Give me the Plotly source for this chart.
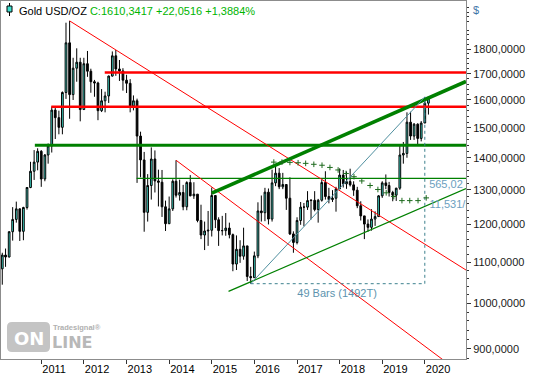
import plotly.graph_objects as go
import pandas as pd

# ---------------- data (monthly Gold USD/OZ, Feb 2010 - Feb 2020) ----------------
open_ = [1083, 1118, 1113, 1180, 1214, 1244, 1181, 1248, 1307, 1357, 1386,
         1421, 1333, 1409, 1439, 1563, 1536, 1502, 1628, 1826, 1620, 1722, 1746,
         1565, 1740, 1710, 1669, 1664, 1561, 1597, 1615, 1691, 1772, 1719, 1711,
         1675, 1663, 1578, 1597, 1472, 1393, 1234, 1313, 1396, 1327, 1323, 1250,
         1202, 1244, 1326, 1284, 1292, 1250, 1322, 1282, 1287, 1211, 1171, 1182,
         1184, 1283, 1213, 1183, 1183, 1190, 1172, 1095, 1133, 1115, 1142, 1064,
         1061, 1116, 1238, 1233, 1293, 1215, 1321, 1351, 1309, 1316, 1275, 1174,
         1151, 1211, 1249, 1249, 1268, 1269, 1242, 1269, 1322, 1280, 1271, 1275,
         1303, 1345, 1318, 1325, 1315, 1299, 1253, 1224, 1201, 1192, 1215, 1222,
         1282, 1321, 1313, 1292, 1284, 1305, 1409, 1414, 1520, 1472, 1513, 1464,
         1517, 1588.3]
high = [1124, 1135, 1181, 1249, 1265, 1245, 1250, 1308, 1387, 1425, 1431,
        1425, 1412, 1447, 1576, 1577, 1561, 1632, 1913, 1921, 1764, 1803, 1764,
        1764, 1792, 1720, 1676, 1669, 1641, 1631, 1693, 1790, 1796, 1755, 1722,
        1696, 1679, 1617, 1605, 1487, 1419, 1348, 1434, 1424, 1362, 1361, 1268,
        1280, 1332, 1392, 1331, 1315, 1326, 1345, 1323, 1287, 1256, 1208, 1238,
        1307, 1284, 1220, 1224, 1232, 1205, 1175, 1170, 1157, 1191, 1142, 1088,
        1127, 1263, 1283, 1306, 1304, 1362, 1375, 1367, 1352, 1317, 1338, 1181,
        1220, 1264, 1261, 1296, 1272, 1296, 1273, 1331, 1357, 1306, 1299, 1309,
        1366, 1361, 1356, 1365, 1326, 1309, 1266, 1224, 1214, 1243, 1237, 1284,
        1326, 1347, 1324, 1297, 1306, 1439, 1452, 1555, 1557, 1517, 1516, 1524,
        1611.4, 1612]
low = [1044, 1088, 1112, 1156, 1205, 1155, 1157, 1242, 1305, 1330, 1360,
       1309, 1326, 1381, 1417, 1462, 1478, 1478, 1604, 1532, 1600, 1669, 1523,
       1564, 1688, 1627, 1612, 1527, 1556, 1555, 1589, 1689, 1692, 1672, 1635,
       1626, 1555, 1562, 1321, 1338, 1180, 1208, 1271, 1292, 1251, 1221, 1182,
       1202, 1238, 1277, 1268, 1240, 1240, 1281, 1273, 1206, 1160, 1131, 1142,
       1167, 1190, 1142, 1170, 1169, 1162, 1077, 1080, 1098, 1106, 1053, 1046.4,
       1061, 1110, 1208, 1209, 1200, 1208, 1311, 1302, 1302, 1241, 1171, 1124,
       1146, 1199, 1195, 1241, 1214, 1237, 1205, 1265, 1271, 1260, 1264, 1236,
       1302, 1307, 1303, 1310, 1282, 1246, 1211, 1160, 1180, 1183, 1196, 1221,
       1276, 1302, 1280, 1266, 1267, 1300, 1381, 1400, 1459, 1459, 1445, 1454,
       1517, 1547]
close = [1118, 1113, 1180, 1214, 1244, 1181, 1248, 1307, 1357, 1386, 1421,
         1333, 1409, 1439, 1563, 1536, 1502, 1628, 1826, 1620, 1722, 1746, 1565,
         1740, 1710, 1669, 1664, 1561, 1597, 1615, 1691, 1772, 1719, 1711, 1675,
         1663, 1578, 1597, 1472, 1393, 1234, 1313, 1396, 1327, 1323, 1250, 1202,
         1244, 1326, 1284, 1292, 1250, 1322, 1282, 1287, 1211, 1171, 1182, 1184,
         1283, 1213, 1183, 1183, 1190, 1172, 1095, 1133, 1115, 1142, 1064, 1061,
         1116, 1238, 1233, 1293, 1215, 1321, 1351, 1309, 1316, 1275, 1174, 1151,
         1211, 1249, 1249, 1268, 1269, 1242, 1269, 1322, 1280, 1271, 1275, 1303,
         1345, 1318, 1325, 1315, 1299, 1253, 1224, 1201, 1192, 1215, 1222, 1282,
         1321, 1313, 1292, 1284, 1305, 1409, 1414, 1520, 1472, 1513, 1464, 1517,
         1588.3, 1610.3417]
months = pd.date_range("2010-02-01", periods=len(close), freq="MS")

year_ticks = ["2011-01-01", "2012-01-01", "2013-01-01", "2014-01-01", "2015-01-01",
              "2016-01-01", "2017-01-01", "2018-01-01", "2019-01-01", "2020-01-01"]
year_labels = ["2011", "2012", "2013", "2014", "2015", "2016", "2017", "2018", "2019", "2020"]
price_ticks = [900, 1000, 1100, 1200, 1300, 1400, 1500, 1600, 1700, 1800]
price_labels = ["900,0000", "1000,0000", "1100,0000", "1200,0000", "1300,0000",
                "1400,0000", "1500,0000", "1600,0000", "1700,0000", "1800,0000"]
minor_prices = [p for p in range(880, 2020, 20) if p % 100 != 0]

# horizontal levels: (start date, price)
red_levels = [("2012-06-28", 1705), ("2011-03-28", 1575)]
green_thick_level = ("2010-11-07", 1441)
green_thin_level = ("2013-03-28", 1335)
level_end = "2021-02-01"

# trendlines: (start date, start price, end date, end price)
red_down_1 = ("2011-09-01", 1921, "2020-12-19", 1080)
red_down_2 = ("2014-03-01", 1392, "2020-07-01", 873)
green_up_thick = ("2015-01-01", 1290, "2020-12-19", 1670)
green_up_thin = ("2015-05-25", 1028, "2020-12-19", 1304)

# measuring tool: Dec 2015 low -> Jan 2020 high
meas_low = ("2015-12-01", 1046.4)
meas_high = ("2020-01-01", 1611.42)
meas_texts = ["565,02 (", "11,531/B"]   # visible (clipped) part of the tool's labels

# dotted arc (plus markers)
arc_dates = ["2016-06-16", "2016-08-25", "2016-11-01", "2017-01-10", "2017-03-16",
             "2017-05-25", "2017-08-03", "2017-10-10", "2017-12-19", "2018-02-25",
             "2018-05-04", "2018-07-10", "2018-09-19", "2018-11-25", "2019-02-04",
             "2019-04-10", "2019-06-19", "2019-08-25", "2019-11-04", "2020-01-13"]
arc_prices = [1386, 1386, 1385, 1384, 1382, 1379, 1376, 1369, 1361, 1350,
              1340, 1327, 1313, 1301, 1291, 1280, 1268, 1268, 1268, 1276]

FONT = "Liberation Sans"
RED = "#FF0000"
GREEN = "#008000"
TEAL = "#3D808E"

fig = go.Figure()

fig.add_trace(go.Candlestick(
    x=months, open=open_, high=high, low=low, close=close,
    increasing=dict(fillcolor="#40E0D0", line=dict(color="#000000", width=1)),
    decreasing=dict(fillcolor="#000000", line=dict(color="#000000", width=1)),
    whiskerwidth=0, hoverinfo="skip", showlegend=False))


def line(x, y, color, width, dash="solid"):
    fig.add_trace(go.Scatter(x=x, y=y, mode="lines", hoverinfo="skip", showlegend=False,
                             line=dict(color=color, width=width, dash=dash)))


for d, p in red_levels:
    line([d, level_end], [p, p], RED, 2.6)
line([green_thick_level[0], level_end], [green_thick_level[1]] * 2, GREEN, 2.8)
line([green_thin_level[0], level_end], [green_thin_level[1]] * 2, GREEN, 1.3)

for t, c, w in [(red_down_1, RED, 1), (red_down_2, RED, 1),
                (green_up_thin, GREEN, 1.2), (green_up_thick, GREEN, 3.6)]:
    line([t[0], t[2]], [t[1], t[3]], c, w)

# measuring tool
line([meas_low[0], meas_high[0]], [meas_low[1], meas_high[1]], "#4F8F9F", 1)
line([meas_low[0], meas_high[0], meas_high[0]],
     [meas_low[1], meas_low[1], meas_high[1]], TEAL, 1, "dot")

fig.add_trace(go.Scatter(
    x=arc_dates, y=arc_prices, mode="markers", hoverinfo="skip", showlegend=False,
    marker=dict(symbol="cross-thin", size=4, line=dict(color="#1E6B1E", width=1))))

fig.add_trace(go.Scatter(
    x=["2020-02-07", "2020-02-10"], y=[1314, 1254],
    text=meas_texts, mode="text", textposition="middle right",
    textfont=dict(family=FONT, size=11, color="#6C9FC0"),
    hoverinfo="skip", showlegend=False, cliponaxis=True))
fig.add_trace(go.Scatter(
    x=["2017-12-10"], y=[1022], text=["49 Bars (1492T)"], mode="text",
    textposition="middle center", textfont=dict(family=FONT, size=11, color="#5D93AE"),
    hoverinfo="skip", showlegend=False))

W, H = 533, 380
L, R, T, B = 1, 67, 1, 21
pw, ph = W - L - R, H - T - B


def px(xp):
    return (xp - L) / pw


def py(yp):
    return (H - B - yp) / ph


shapes = [
    # candle icon in the header
    dict(type="line", xref="paper", yref="paper", x0=px(9.5), x1=px(9.5), y0=py(3), y1=py(16),
         line=dict(color="#000", width=1)),
    dict(type="rect", xref="paper", yref="paper", x0=px(7), x1=px(12), y0=py(6), y1=py(12),
         fillcolor="#40E0D0", line=dict(color="#000", width=1)),
]
# watermark rounded box
x0, x1, y0, y1 = px(7), px(50), py(352), py(322)
rx, ry = 5 / pw, 5 / ph
path = (f"M {x0+rx},{y0} L {x1-rx},{y0} Q {x1},{y0} {x1},{y0+ry} L {x1},{y1-ry} "
        f"Q {x1},{y1} {x1-rx},{y1} L {x0+rx},{y1} Q {x0},{y1} {x0},{y1-ry} "
        f"L {x0},{y0+ry} Q {x0},{y0} {x0+rx},{y0} Z")
shapes.append(dict(type="path", xref="paper", yref="paper", path=path,
                   fillcolor="#C4C4C4", line=dict(width=0), layer="below"))

annotations = [
    dict(xref="paper", yref="paper", x=px(17), y=py(11), xanchor="left", yanchor="middle",
         showarrow=False, font=dict(family=FONT, size=11, color="#000"),
         text="Gold USD/OZ <span style='color:#00B400'>C:1610,3417 +22,0516 +1,3884%</span>"),
    dict(xref="paper", yref="paper", x=px(471), y=py(10), xanchor="left", yanchor="middle",
         showarrow=False, font=dict(family=FONT, size=11, color="#3F74A8"), text="$"),
    dict(xref="paper", yref="paper", x=px(28.5), y=py(338), xanchor="center", yanchor="middle",
         showarrow=False, font=dict(family="DejaVu Sans", size=18, color="#FFFFFF"),
         text="<b>ON</b>"),
    dict(xref="paper", yref="paper", x=px(50), y=py(342), xanchor="left", yanchor="middle",
         showarrow=False, font=dict(family="DejaVu Sans", size=16, color="#B8B8B8"),
         text="<b>LINE</b>"),
    dict(xref="paper", yref="paper", x=px(51), y=py(327), xanchor="left", yanchor="middle",
         showarrow=False, font=dict(family=FONT, size=7.5, color="#B0B0B0"),
         text="<b>Tradesignal®</b>"),
]

fig.update_layout(
    width=W, height=H, margin=dict(l=L, r=R, t=T, b=B),
    paper_bgcolor="#FFFFFF", plot_bgcolor="#FFFFFF",
    font=dict(family=FONT, size=11, color="#000"),
    showlegend=False, boxgap=0.25,
    shapes=shapes, annotations=annotations,
    xaxis=dict(type="date", range=["2010-01-21", "2020-12-19"],
               rangeslider=dict(visible=False),
               tickvals=year_ticks, ticktext=year_labels,
               ticks="outside", ticklen=4, tickcolor="#333", ticklabelposition="outside right",
               showgrid=False, zeroline=False,
               showline=True, linecolor="#8C8C8C", linewidth=1, mirror=True,
               tickfont=dict(family=FONT, size=11, color="#000")),
    yaxis=dict(type="log", range=[2.9441, 3.3035], side="right",
               tickvals=price_ticks, ticktext=price_labels,
               ticks="outside", ticklen=4, tickcolor="#333",
               minor=dict(tickvals=minor_prices, ticks="outside", ticklen=2, tickcolor="#333"),
               showgrid=False, zeroline=False,
               showline=True, linecolor="#8C8C8C", linewidth=1, mirror=True,
               tickfont=dict(family=FONT, size=11, color="#1A1A1A")),
)

fig.write_html("out.html", config={"displayModeBar": False},
               post_script="document.body.style.margin='0';document.body.style.overflow='hidden';")
